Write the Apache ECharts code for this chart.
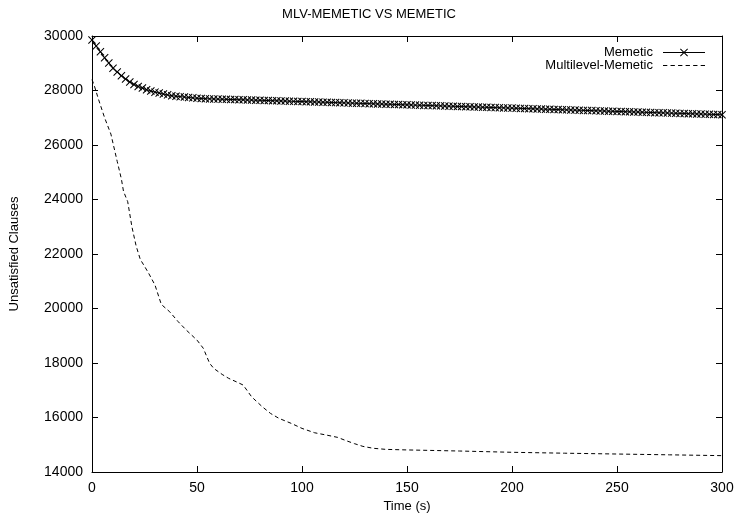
<!DOCTYPE html>
<html>
<head>
<meta charset="utf-8">
<script src="https://cdn.jsdelivr.net/npm/echarts@6/dist/echarts.min.js"></script>
<style>html,body{margin:0;padding:0;background:#fff}#c{width:738px;height:520px}</style>
</head>
<body>
<div id="c"></div>
<script>
const chartTitle = 'MLV-MEMETIC VS MEMETIC';
const xName = 'Time (s)';
const yName = 'Unsatisfied Clauses';
const seriesNames = ['Memetic', 'Multilevel-Memetic'];

// Memetic sampled every 2 s from 0 to 300
const memeticStep = 2;
const memeticValues = [
29850,29630,29420,29200,29010,28820,28680,28540,28420,28310,
28220,28150,28090,28030,27980,27940,27905,27870,27840,27810,
27790,27775,27760,27745,27730,27715,27705,27700,27692,27690,
27684,27680,27676,27670,27668,27662,27658,27652,27650,27644,
27640,27636,27630,27626,27622,27616,27612,27608,27602,27598,
27594,27590,27584,27580,27576,27570,27566,27560,27556,27552,
27546,27542,27536,27532,27528,27522,27518,27512,27508,27502,
27498,27494,27488,27484,27478,27474,27470,27464,27460,27454,
27450,27446,27440,27436,27430,27426,27420,27416,27412,27406,
27402,27396,27392,27386,27382,27378,27372,27368,27362,27358,
27354,27348,27344,27338,27334,27328,27324,27320,27314,27310,
27304,27300,27294,27290,27286,27280,27276,27270,27266,27262,
27256,27252,27246,27242,27236,27232,27228,27222,27218,27212,
27208,27204,27198,27194,27188,27184,27180,27174,27170,27164,
27160,27156,27150,27146,27140,27136,27132,27126,27122,27116,
27112
];

const mlvTimes = [0,1,3,6,9,12,14,15,17,19,21,23,25,27,30,33,37,41,45,50,53,56,58,62,65,69,72,76,81,85,89,95,100,106,112,117,121,125,129,134,140,150,175,200,225,250,275,300];
const mlvValues = [28400,28200,27700,27000,26400,25400,24750,24300,23920,23000,22300,21800,21550,21290,20860,20150,19880,19520,19200,18840,18540,17990,17800,17580,17440,17300,17190,16760,16400,16150,15970,15780,15600,15440,15350,15270,15150,15040,14940,14870,14830,14810,14770,14723,14690,14660,14630,14600];

const memeticData = memeticValues.map((v, i) => [i * memeticStep, v]);
const mlvData = mlvTimes.map((t, i) => [t, mlvValues[i]]);

const font = 'Liberation Sans, Arial, Helvetica, sans-serif';
const crossPath = 'path://M0,0.9L0.9,0L5,4.1L9.1,0L10,0.9L5.9,5L10,9.1L9.1,10L5,5.9L0.9,10L0,9.1L4.1,5Z';
// legend icons drawn in a 42x8 box
const legendSolidCross = 'path://M0,3.5H42V4.5H0Z' +
  'M17,0.72L17.72,0L21,3.28L24.28,0L25,0.72L21.72,4L25,7.28L24.28,8L21,4.72L17.72,8L17,7.28L20.28,4Z';
const legendDashed = 'path://M0,3.5H4V4.5H0ZM7,3.5H11V4.5H7ZM14,3.5H18V4.5H14ZM21,3.5H25V4.5H21ZM28,3.5H32V4.5H28ZM35,3.5H39V4.5H35Z';

const chart = echarts.init(document.getElementById('c'), null, {renderer: 'canvas'});
const axisCommon = {
  axisLine: {show: true, onZero: false, lineStyle: {color: '#000', width: 1}},
  axisTick: {show: true, inside: true, length: 6, lineStyle: {color: '#000'}},
  splitLine: {show: false}
};
const legendText = {fontFamily: font, fontSize: 13, color: '#000', padding: [0, 5, 0, 0]};
chart.setOption({
  animation: false,
  backgroundColor: '#fff',
  title: {
    text: chartTitle, left: 'center', top: 3,
    textStyle: {fontFamily: font, fontSize: 13, fontWeight: 'normal', color: '#000'}
  },
  legend: [
    {data: [{name: seriesNames[0], icon: legendSolidCross}], right: 33, top: 46, padding: 0, align: 'right',
     itemWidth: 42, itemHeight: 8, itemStyle: {color: '#000'}, textStyle: legendText, selectedMode: false},
    {data: [{name: seriesNames[1], icon: legendDashed}], right: 33, top: 59, padding: 0, align: 'right',
     itemWidth: 42, itemHeight: 8, itemStyle: {color: '#000'}, textStyle: legendText, selectedMode: false}
  ],
  grid: {left: 91, right: 16, top: 36, bottom: 48},
  xAxis: [
    Object.assign({type: 'value', min: 0, max: 300, interval: 50, position: 'bottom',
      name: xName, nameLocation: 'middle', nameGap: 26,
      nameTextStyle: {fontFamily: font, fontSize: 13, color: '#000'},
      axisLabel: {fontFamily: font, fontSize: 14, color: '#000', margin: 9}}, axisCommon),
    Object.assign({type: 'value', min: 0, max: 300, interval: 50, position: 'top',
      axisLabel: {show: false}}, axisCommon)
  ],
  yAxis: [
    Object.assign({type: 'value', min: 14000, max: 30000, interval: 2000, position: 'left',
      name: yName, nameLocation: 'middle', nameGap: 71, nameRotate: 90,
      nameTextStyle: {fontFamily: font, fontSize: 13, color: '#000'},
      axisLabel: {fontFamily: font, fontSize: 14, color: '#000', margin: 9, formatter: v => String(v)}}, axisCommon),
    Object.assign({type: 'value', min: 14000, max: 30000, interval: 2000, position: 'right',
      axisLabel: {show: false}}, axisCommon)
  ],
  series: [
    {
      name: seriesNames[0], type: 'line', data: memeticData,
      xAxisIndex: 0, yAxisIndex: 0,
      symbol: crossPath, symbolSize: 8, showAllSymbol: true,
      lineStyle: {color: '#000', width: 1},
      itemStyle: {color: '#000'}
    },
    {
      name: seriesNames[1], type: 'line', data: mlvData,
      xAxisIndex: 0, yAxisIndex: 0,
      showSymbol: false, symbol: 'none',
      lineStyle: {color: '#000', width: 1, type: [4, 3]},
      itemStyle: {color: '#000'}
    }
  ]
});
</script>
</body>
</html>
